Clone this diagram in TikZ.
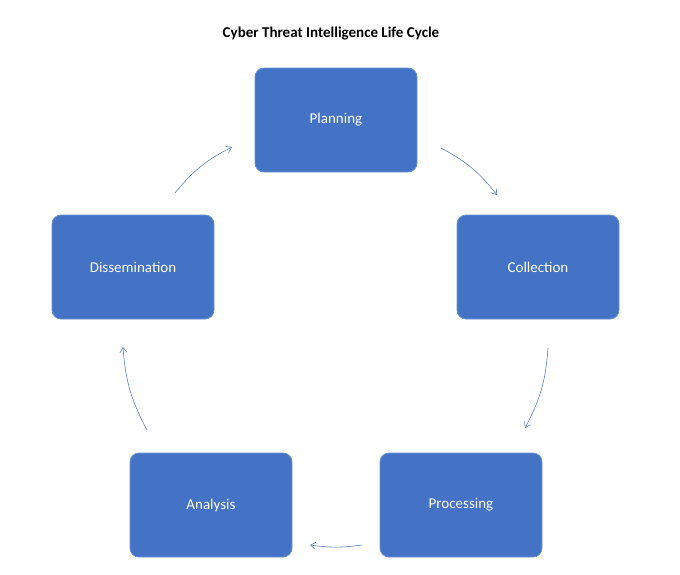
\documentclass[tikz,border=0pt]{standalone}
\usepackage{fontspec}
\setmainfont{Carlito}
\usetikzlibrary{arrows.meta}
\definecolor{boxfill}{HTML}{4472C4}
\definecolor{boxline}{HTML}{6A92D6}
\definecolor{arr}{HTML}{5B82C4}
\tikzset{
 stage/.style={rectangle, rounded corners=9pt, fill=boxfill, draw=boxline, line width=0.8pt,
   minimum width=162pt, minimum height=104pt, text=white, font=\fontsize{15}{18}\selectfont},
 flow/.style={draw=arr, line width=0.6pt, -{Straight Barb[length=5pt,width=7pt]}}
}
\begin{document}
\begin{tikzpicture}[x=1pt,y=-1pt]
\useasboundingbox (0,0) rectangle (680,574);
\node[font=\bfseries\fontsize{15}{18}\selectfont] (title) at (331,34) {Cyber Threat Intelligence Life Cycle};
\node[stage] (plan) at (336,120) {Planning};
\node[stage] (coll) at (538,267) {Collection};
\node[stage] (proc) at (461,505) {Processing};
\node[stage] (anal) at (211,505) {Analysis};
\node[stage] (diss) at (133,267) {Dissemination};
\coordinate (a1) at (441,148); \coordinate (b1) at (497,195);
\coordinate (a2) at (548,348); \coordinate (b2) at (525,428);
\coordinate (a3) at (362,545); \coordinate (b3) at (310,545);
\coordinate (a4) at (147,430); \coordinate (b4) at (123,347);
\coordinate (a5) at (175,193); \coordinate (b5) at (232,147);
\draw[flow] (a1) to[bend left=12] (b1);
\draw[flow] (a2) to[bend left=12] (b2);
\draw[flow] (a3) to[bend left=8] (b3);
\draw[flow] (a4) to[bend left=12] (b4);
\draw[flow] (a5) to[bend left=12] (b5);
\end{tikzpicture}
\end{document}
